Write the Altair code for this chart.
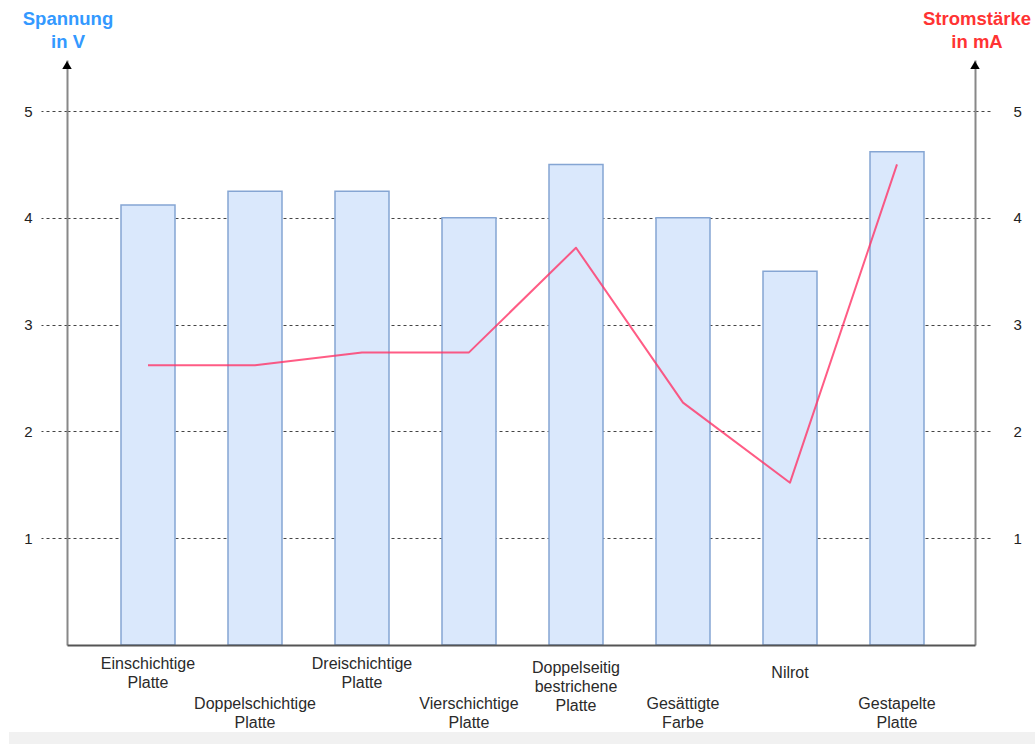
import altair as alt
import pandas as pd

# ---- data -------------------------------------------------------------
categories = [
    "Einschichtige\nPlatte",
    "Doppelschichtige\nPlatte",
    "Dreischichtige\nPlatte",
    "Vierschichtige\nPlatte",
    "Doppelseitig\nbestrichene\nPlatte",
    "Gesättigte\nFarbe",
    "Nilrot",
    "Gestapelte\nPlatte",
]
spannung_v = [4.12, 4.25, 4.25, 4.0, 4.5, 4.0, 3.5, 4.62]
stromstaerke_ma = [2.62, 2.62, 2.74, 2.74, 3.72, 2.27, 1.52, 4.5]
y_ticks = [1, 2, 3, 4, 5]

# ---- layout -----------------------------------------------------------
PLOT_W, PLOT_H = 908, 585
PAD = {"left": 67, "top": 60, "right": 60, "bottom": 99}
X_DOMAIN = [-0.757, 7.729]
Y_DOMAIN = [0, 5.478]
# top of first label line, in plot pixels (labels are staggered in two rows)
label_top = [596, 636, 596, 636, 600, 636, 605, 636]

FONT = "Liberation Sans"
BLUE_TITLE = "#3399FF"
RED_TITLE = "#FF3333"

df = pd.DataFrame({
    "idx": list(range(len(categories))),
    "label": categories,
    "spannung": spannung_v,
    "strom": stromstaerke_ma,
    "ly": label_top,
})

x_enc = alt.X(
    "idx:Q",
    scale=alt.Scale(domain=X_DOMAIN, nice=False, zero=False, padding=0),
    axis=alt.Axis(title=None, labels=False, ticks=False, grid=False,
                  domainColor="#555", domainWidth=2, zindex=1),
)
y_scale = alt.Scale(domain=Y_DOMAIN, nice=False, zero=False)

base = alt.Chart(df)

bars = base.mark_bar(width=54, fill="#dae8fc", stroke="#85a5d3", strokeWidth=1.5).encode(
    x=x_enc,
    y=alt.Y(
        "spannung:Q",
        scale=y_scale,
        axis=alt.Axis(
            orient="left", title=None, values=y_ticks, format="d",
            grid=True, gridDash=[3, 3], gridColor="#444", gridWidth=1,
            tickSize=26, tickDash=[3, 3], tickColor="#444", tickWidth=1,
            labelPadding=9, labelFontSize=15, labelColor="#222", labelFont=FONT,
            domainColor="#888", domainWidth=2,
        ),
    ),
)

line = base.mark_line(color="#FF3366", strokeWidth=2, opacity=0.8, strokeJoin="round").encode(
    x=x_enc,
    y=alt.Y(
        "strom:Q",
        scale=y_scale,
        axis=alt.Axis(
            orient="right", title=None, values=y_ticks, format="d",
            grid=False,
            tickSize=15, tickDash=[3, 3], tickColor="#444", tickWidth=1,
            labelPadding=23, labelFontSize=15, labelColor="#222", labelFont=FONT,
            domainColor="#888", domainWidth=2,
        ),
    ),
)

labels = base.mark_text(
    lineBreak="\n", lineHeight=19, fontSize=16, font=FONT, color="#2a2a2a",
    align="center", baseline="top",
).encode(
    x=x_enc,
    y=alt.Y("ly:Q", scale=None),
    text="label:N",
)

one = alt.Chart(pd.DataFrame({"k": [0]}))

arrow_left = one.mark_point(shape="triangle-up", filled=True, size=90, color="black", opacity=1).encode(
    x=alt.value(0), y=alt.value(5)
)
arrow_right = one.mark_point(shape="triangle-up", filled=True, size=90, color="black", opacity=1).encode(
    x=alt.value(PLOT_W), y=alt.value(5)
)

title_left = one.mark_text(
    text=["Spannung", "in V"], lineHeight=23, fontSize=18.5, fontWeight="bold",
    font=FONT, color=BLUE_TITLE, align="center", baseline="top",
).encode(x=alt.value(1), y=alt.value(-50))

title_right = one.mark_text(
    text=["Stromstärke", "in mA"], lineHeight=23, fontSize=18.5, fontWeight="bold",
    font=FONT, color=RED_TITLE, align="center", baseline="top",
).encode(x=alt.value(910), y=alt.value(-50))

footer_band = one.mark_rect(color="#f1f1f1").encode(
    x=alt.value(-58), x2=alt.value(968), y=alt.value(672), y2=alt.value(684)
)

chart = alt.layer(
    footer_band, bars, line, labels, arrow_left, arrow_right, title_left, title_right
).resolve_axis(y="independent").properties(
    width=PLOT_W,
    height=PLOT_H,
    autosize=alt.AutoSizeParams(type="none"),
    padding=PAD,
    background="white",
).configure_view(stroke=None)

chart.save("out.html", embed_options={"renderer": "svg", "actions": False})
